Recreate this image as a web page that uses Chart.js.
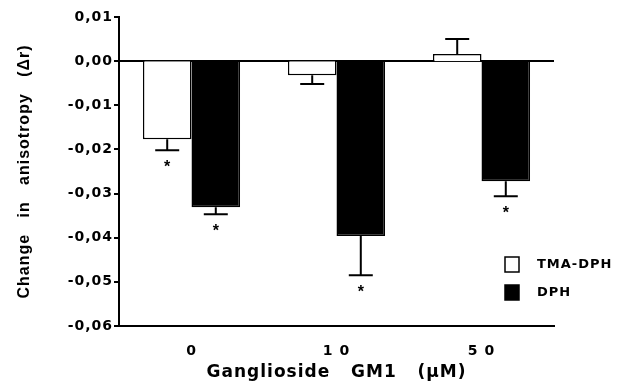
<!DOCTYPE html>
<html>
<head>
<meta charset="utf-8">
<script src="https://cdn.jsdelivr.net/npm/chart.js@4.4.1/dist/chart.umd.min.js"></script>
<style>
  html, body { margin: 0; padding: 0; background: #fff; }
  #wrap { width: 624px; height: 388px; }
</style>
</head>
<body>
<div id="wrap"><canvas id="myChart"></canvas></div>
<script>
// values
var concLabels = ['0', '1 0', '5 0'];
var tmaValues = [-0.0177, -0.0032, 0.0016];
var tmaErrors = [0.0025, 0.0020, 0.0034];
var tmaStars = [true, false, false];
var dphValues = [-0.0331, -0.0396, -0.0272];
var dphErrors = [0.0016, 0.0089, 0.0034];
var dphStars = [true, true, true];

var wideFont = "'DejaVu Sans', sans-serif";
var narrowFont = "'Liberation Sans', Arial, sans-serif";

// the scanned figure has slightly spaced lettering
const letterSpacing = {
    id: 'letterSpacing',
    beforeLayout(chart) { chart.ctx.letterSpacing = '1px'; },
    beforeDraw(chart) { chart.ctx.letterSpacing = '1px'; }
};

// error bars + significance stars
const errorBars = {
    id: 'errorBars',
    afterDatasetsDraw(chart) {
        const ctx = chart.ctx;
        const yScale = chart.scales.y;
        chart.data.datasets.forEach(function (ds, i) {
            const meta = chart.getDatasetMeta(i);
            meta.data.forEach(function (bar, j) {
                const v = ds.data[j];
                const end = v < 0 ? v - ds.errors[j] : v + ds.errors[j];
                const yb = yScale.getPixelForValue(v);
                const ye = yScale.getPixelForValue(end);
                ctx.save();
                ctx.strokeStyle = '#000';
                ctx.lineWidth = 2;
                ctx.beginPath();
                ctx.moveTo(bar.x, yb);
                ctx.lineTo(bar.x, ye);
                ctx.moveTo(bar.x - 12, ye);
                ctx.lineTo(bar.x + 12, ye);
                ctx.stroke();
                if (ds.stars[j]) {
                    ctx.letterSpacing = '0px';
                    ctx.fillStyle = '#000';
                    ctx.font = 'bold 16px ' + narrowFont;
                    ctx.textAlign = 'center';
                    ctx.textBaseline = 'top';
                    ctx.fillText('*', bar.x, ye + 9);
                }
                ctx.restore();
            });
        });
    }
};

// legend inside the plot, lower right
const boxLegend = {
    id: 'boxLegend',
    afterDraw(chart) {
        const ctx = chart.ctx;
        const x = 505, y0 = 257, gap = 28;
        ctx.save();
        chart.data.datasets.forEach(function (ds, i) {
            const y = y0 + i * gap;
            ctx.fillStyle = ds.backgroundColor;
            ctx.fillRect(x, y, 14, 15);
            ctx.strokeStyle = '#000';
            ctx.lineWidth = 1.5;
            ctx.strokeRect(x, y, 14, 15);
            ctx.fillStyle = '#000';
            ctx.font = 'bold 13px ' + wideFont;
            ctx.textAlign = 'left';
            ctx.textBaseline = 'middle';
            ctx.fillText(ds.label, x + 32, y + 8);
        });
        ctx.restore();
    }
};

const ctx = document.getElementById('myChart');
const data = {
    labels: concLabels,
    datasets: [{
        label: 'TMA-DPH',
        data: tmaValues,
        errors: tmaErrors,
        stars: tmaStars,
        backgroundColor: '#ffffff',
        borderColor: '#000000',
        borderWidth: 1.5
    }, {
        label: 'DPH',
        data: dphValues,
        errors: dphErrors,
        stars: dphStars,
        backgroundColor: '#000000',
        borderColor: '#000000',
        borderWidth: 1.5
    }]
};

const config = {
    type: 'bar',
    data: data,
    options: {
        responsive: true,
        maintainAspectRatio: false,
        animation: false,
        categoryPercentage: 0.67,
        barPercentage: 1.0,
        layout: { padding: { left: 8, right: 70, top: 17, bottom: 1 } },
        plugins: {
            legend: { display: false },
            tooltip: { enabled: false }
        },
        scales: {
            x: {
                grid: { display: false, drawTicks: false },
                border: { color: '#000', width: 2 },
                ticks: {
                    color: '#000',
                    padding: 17,
                    font: { family: wideFont, size: 14, weight: 'bold' }
                },
                title: {
                    display: true,
                    text: 'Ganglioside   GM1   (\u03bcM)',
                    color: '#000',
                    font: { family: wideFont, size: 17, weight: 'bold' },
                    padding: { top: 4, bottom: 4 }
                },
                afterFit: function (scale) { scale.height = 61; }
            },
            y: {
                min: -0.06,
                max: 0.01,
                grid: {
                    color: function (c) { return c.tick && Math.abs(c.tick.value) < 1e-9 ? '#000' : 'rgba(0,0,0,0)'; },
                    lineWidth: 2,
                    tickColor: '#000',
                    tickLength: 5,
                    tickWidth: 2
                },
                border: { color: '#000', width: 2 },
                ticks: {
                    stepSize: 0.01,
                    color: '#000',
                    padding: 1,
                    font: { family: wideFont, size: 14, weight: 'bold' },
                    callback: function (v) { return v.toFixed(2).replace('.', ',').replace('-0,00', '0,00'); }
                },
                title: {
                    display: true,
                    text: 'Change   in   anisotropy   (\u0394r)',
                    color: '#000',
                    font: { family: narrowFont, size: 16, weight: 'bold' },
                    padding: { top: 7, bottom: 4 }
                },
                afterFit: function (scale) { scale.width = 111; }
            }
        }
    },
    plugins: [letterSpacing, errorBars, boxLegend]
};

var chart = new Chart(ctx, config);
</script>
</body>
</html>
